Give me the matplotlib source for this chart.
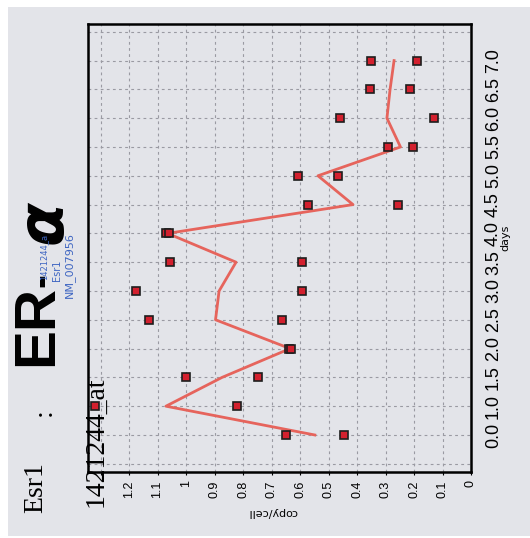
import matplotlib.pyplot as plt
import numpy as np
from matplotlib.patches import Rectangle

# days (categorical, equally spaced) and two replicate measurements (copy/cell)
days = ['0.0', '1.0', '1.5', '2.0', '2.5', '3.0', '3.5', '4.0', '4.5', '5.0', '5.5', '6.0', '6.5', '7.0']
rep1 = [0.65, 1.32, 1.00, 0.64, 1.13, 1.175, 1.056, 1.07, 0.572, 0.607, 0.291, 0.46, 0.354, 0.351]
rep2 = [0.446, 0.821, 0.747, 0.63, 0.663, 0.593, 0.593, 1.06, 0.256, 0.467, 0.204, 0.13, 0.214, 0.189]
copy_ticks = [0, 0.1, 0.2, 0.3, 0.4, 0.5, 0.6, 0.7, 0.8, 0.9, 1.0, 1.1, 1.2, 1.3]
copy_labels = ['0', '0.1', '0.2', '0.3', '0.4', '0.5', '0.6', '0.7', '0.8', '0.9', '1', '1.1', '1.2', '']

W, H = 530, 538
BG = '#e3e4e9'


def px(x, y):
    return x / W, 1 - y / H


fig = plt.figure(figsize=(W / 100, H / 100), dpi=100, facecolor='white')
fig.patches.append(Rectangle((8 / W, 2 / H), 1, 1 - 9 / H, transform=fig.transFigure,
                             facecolor=BG, edgecolor='none', zorder=-5))

# the scan is turned 90 degrees: copy/cell runs along x (reversed), days up the right side
ax = fig.add_axes([88 / W, 1 - 472 / H, (471 - 88) / W, (472 - 24) / H])
ax.set_zorder(2)
ax.set_facecolor(BG)

pos = np.arange(len(days))
mean = (np.array(rep1) + np.array(rep2)) / 2
ax.plot(mean, pos, color='#e6645c', lw=2.0, zorder=2)
for rep in (rep1, rep2):
    ax.plot(rep, pos, 's', ms=5.6, mfc='#d3202e', mec='#1e1e1e', mew=1.2, zorder=3, ls='none')

ax.set_xlim(1.344, 0)
ax.set_ylim(-1.285, 14.27)

ax.set_xticks(copy_ticks)
ax.set_xticklabels(copy_labels, rotation=90, fontsize=9, family='Liberation Sans')
ax.set_yticks(pos)
ax.set_yticklabels(days, rotation=90, fontsize=13, family='Liberation Sans', va='center')
ax.yaxis.tick_right()
ax.tick_params(axis='x', length=2, pad=4)
ax.tick_params(axis='y', length=0, pad=10)

for v in copy_ticks[1:]:
    ax.axvline(v, color='#9a9aa2', lw=0.8, ls=(0, (2.5, 3)), zorder=1)
for i in range(-1, 15):
    ax.axhline(i, color='#9a9aa2', lw=0.8, ls=(0, (2.5, 3)), zorder=1)

for s in ax.spines.values():
    s.set_linewidth(1.8)
    s.set_color('black')

# titles and labels, all rotated like the scan
fig.text(*px(36, 488), 'Esr1', rotation=90, fontsize=20, family='Liberation Serif', ha='center', va='center')
fig.text(*px(44, 412), ':', rotation=90, fontsize=20, family='Liberation Serif', ha='center', va='center')
fig.text(*px(37, 325), 'ER', rotation=90, fontsize=42, family='Liberation Sans', weight='bold',
         ha='center', va='center')
fig.text(*px(42, 280), '-', rotation=90, fontsize=30, family='Liberation Sans', weight='bold',
         ha='center', va='center')
fig.text(*px(44, 222), 'α', rotation=90, fontsize=46, family='DejaVu Sans', weight='bold', style='italic',
         ha='center', va='center')
blue = '#3f66c2'
fig.text(*px(44, 257), '1421244_a', rotation=90, fontsize=6, color=blue, ha='center', va='center')
fig.text(*px(57, 270), 'Esr1', rotation=90, fontsize=7, color=blue, ha='center', va='center')
fig.text(*px(69, 265), 'NM_007956', rotation=90, fontsize=8, color=blue, ha='center', va='center')
fig.text(*px(96, 442), '1421244_at', rotation=90, fontsize=20, family='Liberation Serif',
         ha='center', va='center', zorder=5)
fig.text(*px(273, 512), 'copy/cell', rotation=180, fontsize=8, ha='center', va='center')
fig.text(*px(505, 238), 'days', rotation=90, fontsize=8, ha='center', va='center')

fig.savefig('out.png', dpi=100, facecolor='white')
